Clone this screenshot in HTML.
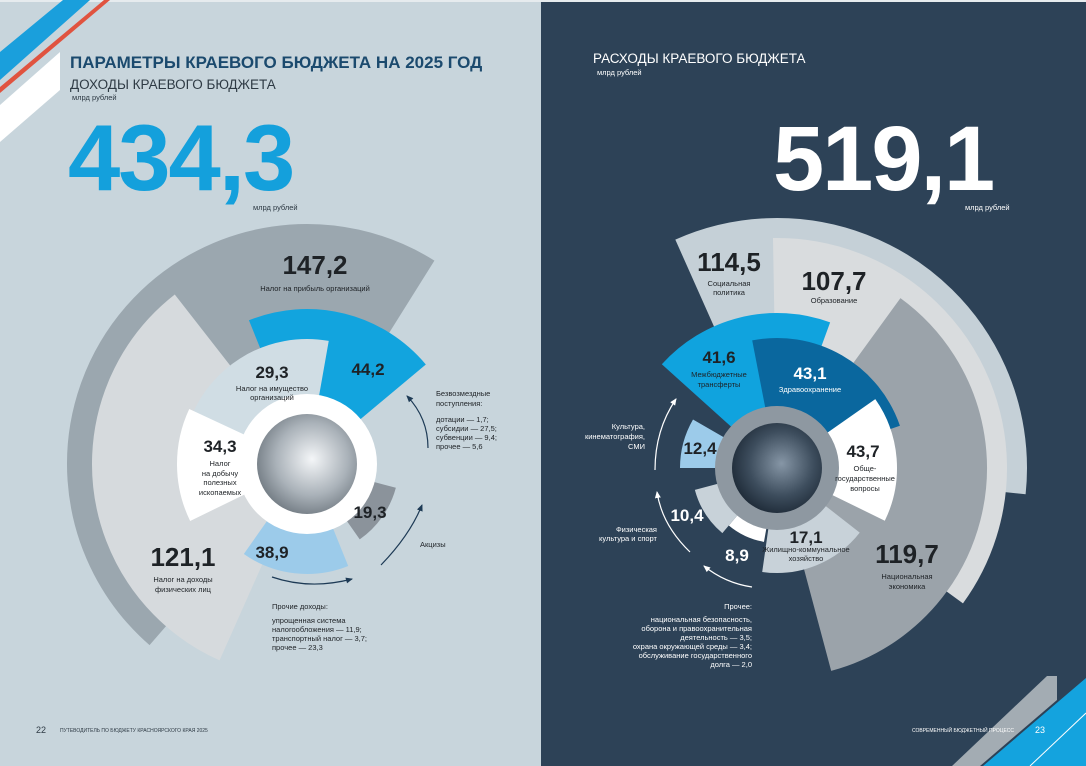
<!DOCTYPE html>
<html><head><meta charset="utf-8"><style>
html,body{margin:0;padding:0;width:1086px;height:766px;overflow:hidden;}
svg text{font-family:"Liberation Sans","Noto Sans CJK SC",sans-serif;}
</style></head><body>
<svg width="1086" height="766" viewBox="0 0 1086 766" xmlns="http://www.w3.org/2000/svg">
<defs>
<radialGradient id="gl" cx="0.55" cy="0.45" r="0.6"><stop offset="0" stop-color="#f4f6f8"/><stop offset="0.6" stop-color="#aab2b9"/><stop offset="1" stop-color="#6f7880"/></radialGradient>
<radialGradient id="gr" cx="0.55" cy="0.45" r="0.6"><stop offset="0" stop-color="#8696a6"/><stop offset="0.6" stop-color="#3d4d5d"/><stop offset="1" stop-color="#1c2835"/></radialGradient>
<marker id="ad" markerWidth="8" markerHeight="8" refX="6" refY="4" orient="auto" markerUnits="userSpaceOnUse"><path d="M0,1 L7,4 L0,7 z" fill="#1d3a55"/></marker>
<marker id="aw" markerWidth="8" markerHeight="8" refX="6" refY="4" orient="auto" markerUnits="userSpaceOnUse"><path d="M0,1 L7,4 L0,7 z" fill="#ffffff"/></marker>
</defs>
<rect x="0" y="0" width="541" height="766" fill="#c8d5dc"/>
<rect x="541" y="0" width="545" height="766" fill="#2d4257"/>
<rect x="0" y="0" width="1086" height="2" fill="#e6ebee"/>
<polygon points="63,0 90,0 0,80 0,52" fill="#1a9fdc"/>
<polygon points="104,0 110,0 0,93 0,87" fill="#e0533f"/>
<polygon points="60,52 60,90 0,142 0,105" fill="#ffffff"/>
<polygon points="1047,676 1057,676 1057,700 980,766 952,766" fill="#a3acb3"/>
<polygon points="1086,678 1086,766 983,766" fill="#14a3de"/>
<line x1="1086" y1="713" x2="1030" y2="766" stroke="#ffffff" stroke-width="1"/>

<text x="70" y="68" font-size="17" font-weight="bold" fill="#1b4a6e">ПАРАМЕТРЫ КРАЕВОГО БЮДЖЕТА НА 2025 ГОД</text>
<text x="70" y="89" font-size="13.5" fill="#2e3a44">ДОХОДЫ КРАЕВОГО БЮДЖЕТА</text>
<text x="72" y="100" font-size="7.5" fill="#2e3a44">млрд рублей</text>
<text x="68" y="190" font-size="94" font-weight="bold" fill="#14a0dc" letter-spacing="-2">434,3</text>
<text x="253" y="210" font-size="7.5" fill="#2e3a44">млрд рублей</text>
<text x="593" y="63" font-size="13.5" fill="#ffffff">РАСХОДЫ КРАЕВОГО БЮДЖЕТА</text>
<text x="597" y="75" font-size="7.5" fill="#ffffff">млрд рублей</text>
<text x="773" y="190" font-size="92" font-weight="bold" fill="#ffffff" letter-spacing="-2">519,1</text>
<text x="965" y="210" font-size="7.5" fill="#ffffff">млрд рублей</text>

<g fill="none">
<circle cx="307" cy="464" r="120" stroke="#9ba7af" stroke-width="240" stroke-dasharray="358.1 2000" transform="rotate(131 307 464)"/>
<circle cx="307" cy="464" r="107.5" stroke="#d6dadd" stroke-width="215" stroke-dasharray="221.4 2000" transform="rotate(114 307 464)"/>
<circle cx="307" cy="464" r="77.5" stroke="#12a4de" stroke-width="155" stroke-dasharray="97.4 2000" transform="rotate(-112 307 464)"/>
<circle cx="307" cy="464" r="62.5" stroke="#d0dde4" stroke-width="125" stroke-dasharray="92.7 2000" transform="rotate(-165 307 464)"/>
<circle cx="307" cy="464" r="65" stroke="#ffffff" stroke-width="130" stroke-dasharray="57.9 2000" transform="rotate(154 307 464)"/>
<circle cx="307" cy="464" r="55" stroke="#9ccbea" stroke-width="110" stroke-dasharray="54.7 2000" transform="rotate(68 307 464)"/>
<circle cx="307" cy="464" r="46" stroke="#8b939b" stroke-width="92" stroke-dasharray="32.1 2000" transform="rotate(15 307 464)"/>
</g>
<circle cx="307" cy="464" r="70" fill="#ffffff"/>
<circle cx="307" cy="464" r="50" fill="url(#gl)"/>

<g fill="none">
<circle cx="777" cy="468" r="125" stroke="#c5d0d7" stroke-width="250" stroke-dasharray="261.8 2000" transform="rotate(-114 777 468)"/>
<circle cx="777" cy="468" r="115" stroke="#d9dcde" stroke-width="230" stroke-dasharray="254.9 2000" transform="rotate(-91 777 468)"/>
<circle cx="777" cy="468" r="105" stroke="#9ba3aa" stroke-width="210" stroke-dasharray="236.4 2000" transform="rotate(-54 777 468)"/>
<circle cx="777" cy="468" r="77.5" stroke="#10a3de" stroke-width="155" stroke-dasharray="92.0 2000" transform="rotate(-138 777 468)"/>
<circle cx="777" cy="468" r="65" stroke="#0a679e" stroke-width="130" stroke-dasharray="93.0 2000" transform="rotate(-101 777 468)"/>
<circle cx="777" cy="468" r="60" stroke="#ffffff" stroke-width="120" stroke-dasharray="63.9 2000" transform="rotate(-35 777 468)"/>
<circle cx="777" cy="468" r="52.5" stroke="#c8d2d9" stroke-width="105" stroke-dasharray="55.0 2000" transform="rotate(38 777 468)"/>
<circle cx="777" cy="468" r="48.5" stroke="#9ccbea" stroke-width="97" stroke-dasharray="25.4 2000" transform="rotate(180 777 468)"/>
<circle cx="777" cy="468" r="42.5" stroke="#c8d2d9" stroke-width="85" stroke-dasharray="26.0 2000" transform="rotate(130 777 468)"/>
<circle cx="777" cy="468" r="37.5" stroke="#ffffff" stroke-width="75" stroke-dasharray="19.6 2000" transform="rotate(100 777 468)"/>
</g>
<circle cx="777" cy="468" r="62" fill="#8e98a1"/>
<circle cx="777" cy="468" r="45" fill="url(#gr)"/>

<g fill="none" stroke-width="1.2">
<path d="M272,577 Q310,590 352,579" stroke="#1d3a55" marker-end="url(#ad)"/>
<path d="M381,565 Q410,535 422,505" stroke="#1d3a55" marker-end="url(#ad)"/>
<path d="M428,448 Q428,418 407,396" stroke="#1d3a55" marker-end="url(#ad)"/>
<path d="M655,470 Q655,430 676,399" stroke="#ffffff" marker-end="url(#aw)"/>
<path d="M690,552 Q662,525 657,492" stroke="#ffffff" marker-end="url(#aw)"/>
<path d="M752,587 Q725,583 704,566" stroke="#ffffff" marker-end="url(#aw)"/>
</g>

<g text-anchor="middle" fill="#1e2226">
<text x="315" y="274" font-size="26" font-weight="bold">147,2</text>
<text x="315" y="291" font-size="7.5">Налог на прибыль организаций</text>
<text x="272" y="378" font-size="17" font-weight="bold">29,3</text>
<text x="272" y="391" font-size="7.5">Налог на имущество</text>
<text x="272" y="400" font-size="7.5">организаций</text>
<text x="368" y="375" font-size="17" font-weight="bold">44,2</text>
<text x="220" y="452" font-size="17" font-weight="bold">34,3</text>
<text x="220" y="466" font-size="7.5">Налог</text>
<text x="220" y="476" font-size="7.5">на добычу</text>
<text x="220" y="485" font-size="7.5">полезных</text>
<text x="220" y="495" font-size="7.5">ископаемых</text>
<text x="370" y="518" font-size="17" font-weight="bold">19,3</text>
<text x="272" y="558" font-size="17" font-weight="bold">38,9</text>
<text x="183" y="566" font-size="26" font-weight="bold">121,1</text>
<text x="183" y="582" font-size="7.5">Налог на доходы</text>
<text x="183" y="592" font-size="7.5">физических лиц</text>
</g>
<g fill="#1e2226" font-size="7.5">
<text x="436" y="396">Безвозмездные</text>
<text x="436" y="406">поступления:</text>
<text x="436" y="422">дотации — 1,7;</text>
<text x="436" y="431">субсидии — 27,5;</text>
<text x="436" y="440">субвенции — 9,4;</text>
<text x="436" y="449">прочее — 5,6</text>
<text x="420" y="547">Акцизы</text>
<text x="272" y="609">Прочие доходы:</text>
<text x="272" y="623">упрощенная система</text>
<text x="272" y="632">налогообложения — 11,9;</text>
<text x="272" y="641">транспортный налог — 3,7;</text>
<text x="272" y="650">прочее — 23,3</text>
</g>

<g text-anchor="middle" fill="#1e2226">
<text x="729" y="271" font-size="26" font-weight="bold">114,5</text>
<text x="729" y="286" font-size="7.5">Социальная</text>
<text x="729" y="295" font-size="7.5">политика</text>
<text x="834" y="290" font-size="26" font-weight="bold">107,7</text>
<text x="834" y="303" font-size="7.5">Образование</text>
<text x="719" y="363" font-size="17" font-weight="bold">41,6</text>
<text x="719" y="377" font-size="7.5">Межбюджетные</text>
<text x="719" y="387" font-size="7.5">трансферты</text>
<text x="810" y="379" font-size="17" font-weight="bold" fill="#ffffff">43,1</text>
<text x="810" y="392" font-size="7.5" fill="#ffffff">Здравоохранение</text>
<text x="863" y="457" font-size="17" font-weight="bold">43,7</text>
<text x="865" y="471" font-size="7.5">Обще-</text>
<text x="865" y="481" font-size="7.5">государственные</text>
<text x="865" y="491" font-size="7.5">вопросы</text>
<text x="700" y="454" font-size="17" font-weight="bold">12,4</text>
<text x="687" y="521" font-size="17" font-weight="bold" fill="#ffffff">10,4</text>
<text x="737" y="561" font-size="17" font-weight="bold" fill="#ffffff">8,9</text>
<text x="806" y="543" font-size="17" font-weight="bold">17,1</text>
<text x="806" y="552" font-size="7.5">Жилищно-коммунальное</text>
<text x="806" y="561" font-size="7.5">хозяйство</text>
<text x="907" y="563" font-size="26" font-weight="bold">119,7</text>
<text x="907" y="579" font-size="7.5">Национальная</text>
<text x="907" y="589" font-size="7.5">экономика</text>
</g>
<g text-anchor="end" fill="#ffffff" font-size="7.5">
<text x="645" y="429">Культура,</text>
<text x="645" y="439">кинематография,</text>
<text x="645" y="449">СМИ</text>
<text x="657" y="532">Физическая</text>
<text x="657" y="541">культура и спорт</text>
<text x="752" y="609">Прочее:</text>
<text x="752" y="622">национальная безопасность,</text>
<text x="752" y="631">оборона и правоохранительная</text>
<text x="752" y="640">деятельность — 3,5;</text>
<text x="752" y="649">охрана окружающей среды — 3,4;</text>
<text x="752" y="658">обслуживание государственного</text>
<text x="752" y="667">долга — 2,0</text>
</g>

<text x="36" y="733" font-size="9" fill="#2e3a44">22</text>
<text x="60" y="732" font-size="5" fill="#2e3a44">ПУТЕВОДИТЕЛЬ ПО БЮДЖЕТУ КРАСНОЯРСКОГО КРАЯ 2025</text>
<text x="1014" y="732" font-size="5" fill="#ffffff" text-anchor="end">СОВРЕМЕННЫЙ БЮДЖЕТНЫЙ ПРОЦЕСС</text>
<text x="1035" y="733" font-size="9" fill="#ffffff">23</text>
</svg>
</body></html>
